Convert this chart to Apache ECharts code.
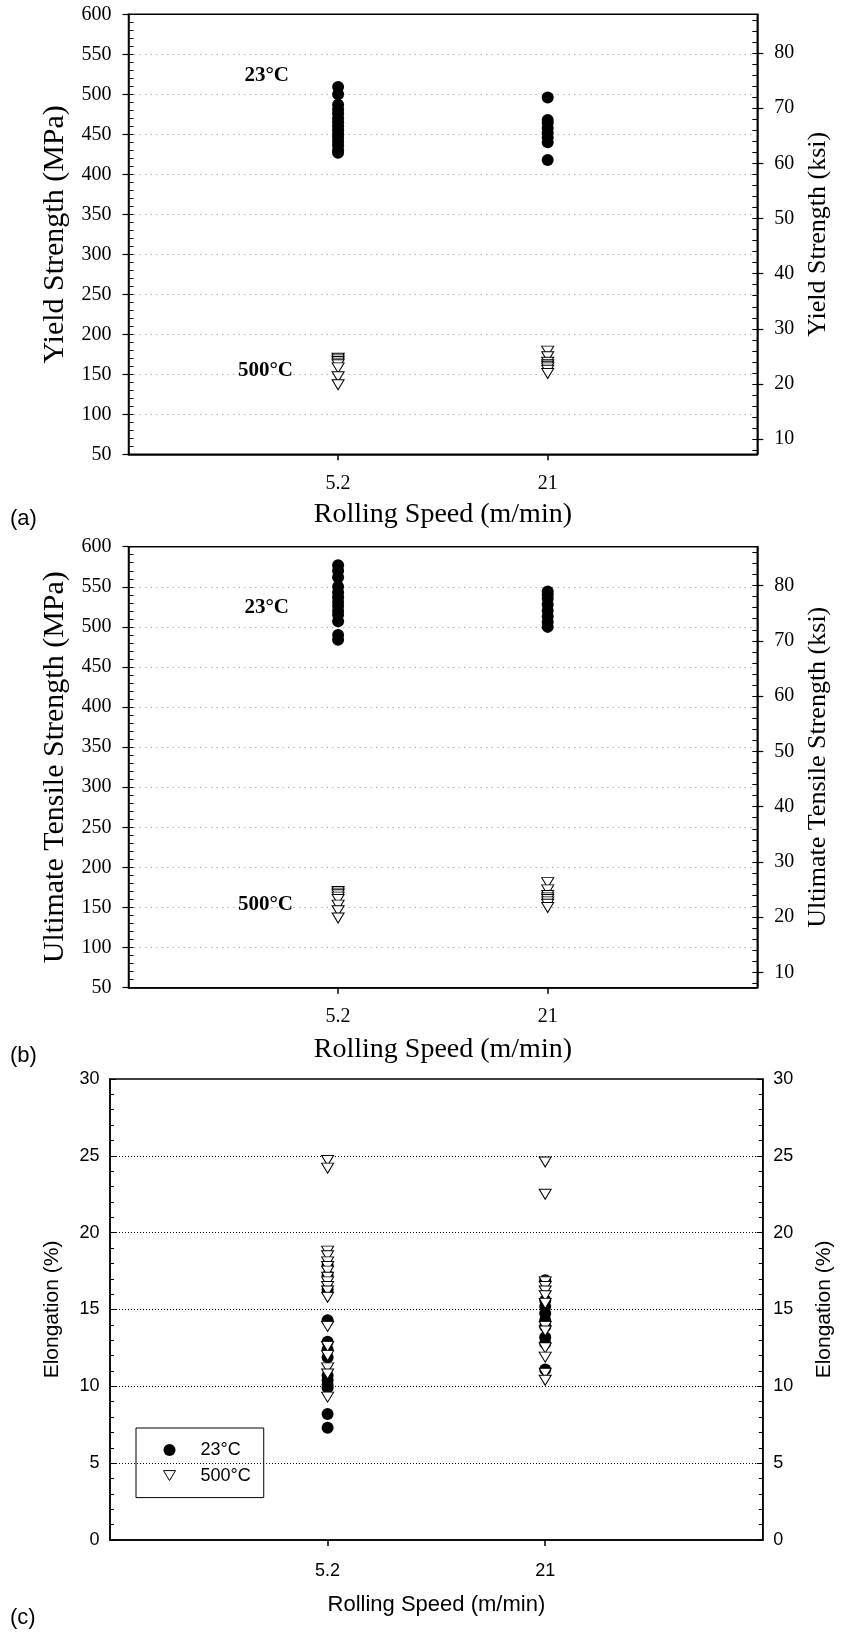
<!DOCTYPE html>
<html>
<head>
<meta charset="utf-8">
<script src="https://cdn.jsdelivr.net/npm/echarts@6/dist/echarts.min.js"></script>
<style>
html,body{margin:0;padding:0;background:#fff;}
#c{width:843px;height:1637px;}
</style>
</head>
<body>
<div id="c"></div>
<script>
// ---- data ----
const speeds = ['5.2', '21'];
const ksiTicks = [10, 20, 30, 40, 50, 60, 70, 80];
// Yield strength (MPa)
const ys23_52 = [509, 500, 487, 481, 476, 470, 465, 460, 455, 450, 446, 441, 436, 430, 427];
const ys23_21 = [496, 468, 464, 458, 452, 446, 440, 418];
const ys500_52 = [170, 168, 166, 164, 162, 158, 147, 137];
const ys500_21 = [179, 172, 165, 162, 160, 158, 155, 151];
// Ultimate tensile strength (MPa)
const uts23_52 = [577, 570, 562, 550, 543, 537, 531, 526, 520, 515, 507, 490, 484];
const uts23_21 = [544, 540, 535, 528, 520, 513, 506, 500];
const uts500_52 = [170, 168, 166, 163, 160, 153, 146, 137];
const uts500_21 = [181, 172, 165, 162, 160, 157, 154, 150];
// Elongation (%)
const el23_52 = [17.9, 17.2, 16.3, 14.3, 12.9, 12.4, 11.9, 10.7, 10.4, 10.1, 9.9, 8.2, 7.3];
const el23_21 = [16.9, 15.6, 15.2, 14.75, 14.3, 13.9, 13.2, 12.8, 11.1];
const el500_52 = [24.7, 24.2, 18.8, 18.5, 18.1, 17.8, 17.5, 17.1, 16.8, 16.5, 16.2, 15.8, 13.9, 12.6, 12.0, 11.2, 10.8, 9.3];
const el500_21 = [24.6, 22.5, 16.8, 16.5, 16.2, 15.9, 15.4, 13.9, 13.6, 12.5, 11.9, 10.85, 10.4];

const MPA_PER_KSI = 6.894757;

function pts(a52, a21) {
  const out = [];
  [a52, a21].forEach((arr, i) => arr.forEach(v => out.push([i + 1, v])));
  return out;
}

const SERIF = 'Liberation Serif';
const SANS = 'Liberation Sans';
const black = '#000';

const grids = [
  {left: 128.5, top: 14.3, width: 628.8, height: 440},
  {left: 128.5, top: 546.7, width: 628.8, height: 441},
  {left: 110, top: 1079, width: 659, height: 461}
].map(g => Object.assign(g, {show: true, borderColor: black, borderWidth: 1.5, backgroundColor: 'transparent'}));

function xAxis(gi, font, fs, nfs, margin, nameGap) {
  return {
    type: 'value', gridIndex: gi, min: 0, max: 3,
    axisLine: {show: true, onZero: false, lineStyle: {color: black, width: 1.5}},
    axisTick: {show: true, customValues: [1, 2], length: 6, lineStyle: {color: black, width: 1.5}},
    axisLabel: {show: true, customValues: [1, 2], formatter: v => speeds[v - 1], margin: margin,
      fontFamily: font, fontSize: fs, color: black},
    splitLine: {show: false},
    name: 'Rolling Speed (m/min)', nameLocation: 'middle', nameGap: nameGap,
    nameTextStyle: {fontFamily: font, fontSize: nfs, color: black, verticalAlign: 'middle'}
  };
}

function mpaAxes(gi, leftName, rightName) {
  const kmin = 50 / MPA_PER_KSI, kmax = 600 / MPA_PER_KSI;
  const ksiMinor = [];
  for (let k = 8; k <= 86; k += 2) ksiMinor.push(k);
  return [
    { type: 'value', gridIndex: gi, position: 'left', min: 50, max: 600, interval: 50,
      axisLine: {show: true, onZero: false, lineStyle: {color: black, width: 1.5}},
      axisTick: {show: true, inside: false, length: 6, lineStyle: {color: black, width: 1.2}},
      axisLabel: {fontFamily: SERIF, fontSize: 20, color: black, margin: 17},
      splitLine: {show: true, showMinLine: false, showMaxLine: false,
        lineStyle: {color: '#b4b4b4', width: 1, type: [1.5, 4]}},
      name: leftName, nameLocation: 'middle', nameRotate: 90, nameGap: 64,
      nameTextStyle: {fontFamily: SERIF, fontSize: 30, color: black, verticalAlign: 'middle'}
    },
    { type: 'value', gridIndex: gi, position: 'left', min: 50, max: 600, interval: 10,
      axisLine: {show: false, onZero: false},
      axisTick: {show: true, inside: true, length: 5, lineStyle: {color: black, width: 1}},
      axisLabel: {show: false}, splitLine: {show: false}
    },
    { type: 'value', gridIndex: gi, position: 'right', min: kmin, max: kmax,
      axisLine: {show: true, onZero: false, lineStyle: {color: black, width: 1.5}},
      axisTick: {show: true, inside: false, length: 6, customValues: ksiTicks, lineStyle: {color: black, width: 1.2}},
      axisLabel: {customValues: ksiTicks, fontFamily: SERIF, fontSize: 20, color: black, margin: 17},
      splitLine: {show: false},
      name: rightName, nameLocation: 'middle', nameRotate: 90, nameGap: 58,
      nameTextStyle: {fontFamily: SERIF, fontSize: 26, color: black, verticalAlign: 'middle'}
    },
    { type: 'value', gridIndex: gi, position: 'right', min: kmin, max: kmax,
      axisLine: {show: false, onZero: false},
      axisTick: {show: true, inside: true, length: 5, customValues: ksiMinor, lineStyle: {color: black, width: 1}},
      axisLabel: {show: false}, splitLine: {show: false}
    }
  ];
}

function elAxis(pos) {
  return {
    type: 'value', gridIndex: 2, position: pos, min: 0, max: 30, interval: 5,
    axisLine: {show: true, onZero: false, lineStyle: {color: black, width: 1.5}},
    axisTick: {show: true, inside: true, length: 6, lineStyle: {color: black, width: 1}},
    minorTick: {show: true, splitNumber: 5, length: 4, lineStyle: {color: black, width: 1}},
    axisLabel: {fontFamily: SANS, fontSize: 18, color: black, margin: 10.5},
    splitLine: {show: pos === 'left', showMinLine: false, showMaxLine: false,
      lineStyle: {color: black, width: 1, type: [1, 2]}},
    name: 'Elongation (%)', nameLocation: 'middle', nameRotate: 90, nameGap: pos === 'left' ? 57.4 : 61.7,
    nameTextStyle: {fontFamily: SANS, fontSize: 21, color: black, verticalAlign: 'middle'}
  };
}

const circleStyle = {color: black, borderColor: black, borderWidth: 0, opacity: 1};
const triStyle = {color: '#fff', borderColor: black, borderWidth: 1, opacity: 1};

function circ(xi, yi, data) {
  return {type: 'scatter', name: '23°C', xAxisIndex: xi, yAxisIndex: yi, data: data,
    symbol: 'circle', symbolSize: 12, itemStyle: circleStyle, animation: false};
}
function tri(xi, yi, data) {
  return {type: 'scatter', name: '500°C', xAxisIndex: xi, yAxisIndex: yi, data: data,
    symbol: 'triangle', symbolRotate: 180, symbolSize: [12, 10], itemStyle: triStyle, animation: false};
}

function label(text, x, y, font, fs, bold, align) {
  return {type: 'text', x: x, y: y, z: 100,
    style: {text: text, fontFamily: font, fontSize: fs, fontWeight: bold ? 'bold' : 'normal',
      fill: black, align: align || 'right', verticalAlign: 'middle'}};
}

const option = {
  animation: false,
  backgroundColor: '#fff',
  grid: grids,
  xAxis: [
    xAxis(0, SERIF, 20, 28, 19.5, 60),
    xAxis(1, SERIF, 20, 28, 19.5, 62),
    xAxis(2, SANS, 18, 22, 22, 65)
  ],
  yAxis: [
    ...mpaAxes(0, 'Yield Strength (MPa)', 'Yield Strength (ksi)'),
    ...mpaAxes(1, 'Ultimate Tensile Strength (MPa)', 'Ultimate Tensile Strength (ksi)'),
    elAxis('left'),
    elAxis('right')
  ],
  legend: {
    data: [
      {name: '23°C', icon: 'circle', itemStyle: {color: black, borderWidth: 0, opacity: 1}},
      {name: '500°C', icon: 'path://M0,0L12,0L6,10Z', itemStyle: {color: '#fff', borderColor: black, borderWidth: 1, opacity: 1}}
    ],
    orient: 'vertical', left: 136, top: 1428,
    padding: [13, 13, 13, 27], itemWidth: 12, itemHeight: 12, itemGap: 7.6,
    borderColor: black, borderWidth: 1, selectedMode: false,
    textStyle: {fontFamily: SANS, fontSize: 18, color: black, lineHeight: 18, padding: [0, 0, 0, 20]}
  },
  series: [
    circ(0, 0, pts(ys23_52, ys23_21)),
    tri(0, 0, pts(ys500_52, ys500_21)),
    circ(1, 4, pts(uts23_52, uts23_21)),
    tri(1, 4, pts(uts500_52, uts500_21)),
    circ(2, 8, pts(el23_52, el23_21)),
    tri(2, 8, pts(el500_52, el500_21))
  ],
  graphic: [
    label('23°C', 289, 76, SERIF, 21, true),
    label('500°C', 293, 371, SERIF, 21, true),
    label('23°C', 289, 607.5, SERIF, 21, true),
    label('500°C', 293, 905, SERIF, 21, true),
    label('(a)', 10, 519, SANS, 22, false, 'left'),
    label('(b)', 10, 1056, SANS, 22, false, 'left'),
    label('(c)', 10, 1618, SANS, 22, false, 'left')
  ]
};

const chart = echarts.init(document.getElementById('c'), null, {renderer: 'canvas'});
chart.setOption(option);
</script>
</body>
</html>
